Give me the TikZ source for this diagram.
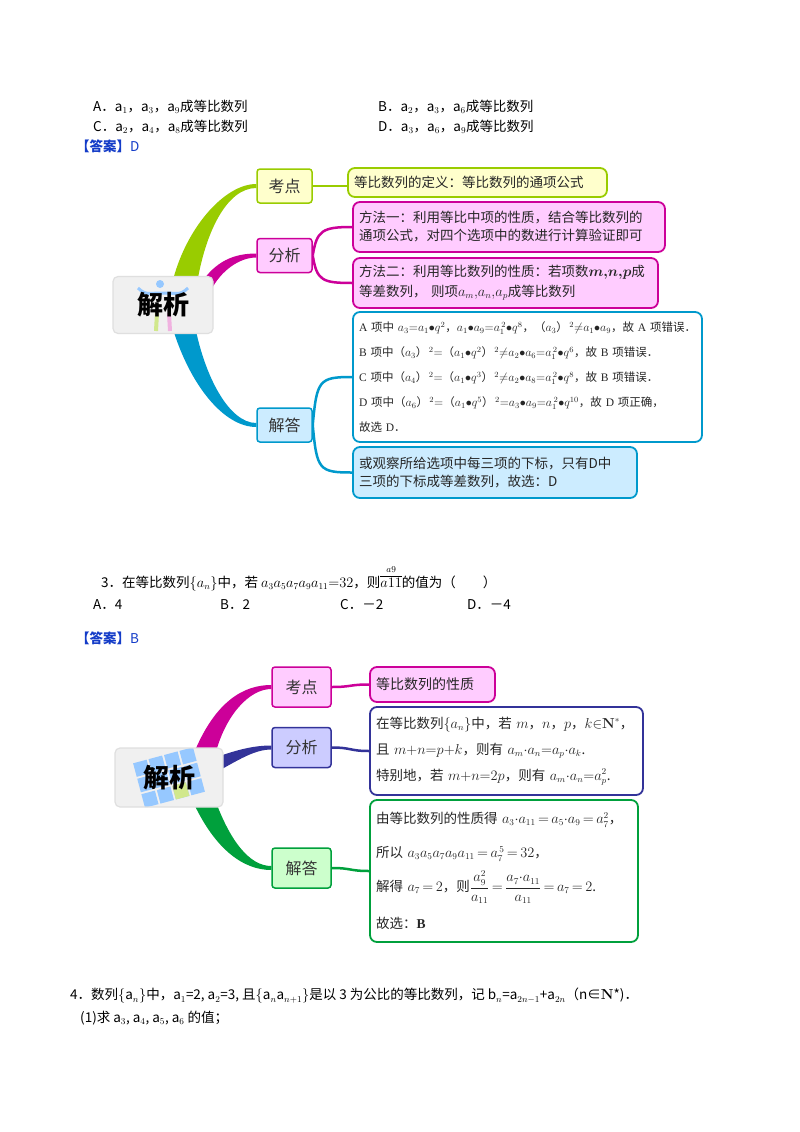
\documentclass[tikz,border=0pt]{standalone}
\usepackage[no-math]{fontspec}
\usepackage{amsmath}
\setmainfont{Noto Sans CJK SC}
\newfontfamily\tnr{Liberation Serif}
\usetikzlibrary{calc,backgrounds}

\definecolor{lime}{RGB}{153,204,0}
\definecolor{limefill}{RGB}{255,255,204}
\definecolor{mag}{RGB}{204,0,153}
\definecolor{magfill}{RGB}{255,204,255}
\definecolor{sky}{RGB}{0,153,204}
\definecolor{skyfill}{RGB}{204,236,255}
\definecolor{navy}{RGB}{51,51,153}
\definecolor{navyfill}{RGB}{204,204,255}
\definecolor{leaf}{RGB}{0,160,60}
\definecolor{leaffill}{RGB}{204,255,204}
\definecolor{ansblue}{RGB}{20,60,200}
\definecolor{tile}{RGB}{150,200,255}

\newcommand{\fsz}[2]{\fontsize{#1}{#2}\selectfont}

\begin{document}
\begin{tikzpicture}[x=1pt,y=-1pt]

\tikzset{txt/.style = {anchor=west, inner sep=0pt, font=\fsz{13.5}{16}}}
\tikzset{ans/.style = {txt, text=ansblue}}
\tikzset{root/.style = {draw=gray!25, fill=gray!12, rounded corners=5pt, line width=1.2pt, font=\fsz{26}{26}\bfseries}}
\tikzset{topic/.style = {draw=#1, fill=#1fill, rounded corners=3pt, line width=1.5pt, inner sep=0pt, text=black!80, font=\fsz{16}{16}}}
\tikzset{box/.style = {draw=#1, rounded corners=7pt, line width=1.8pt, inner sep=6pt, align=left, text=black!85}}

\useasboundingbox (0,0) rectangle (800,1132);

% question 2
\node[txt] (qa) at (93,107) {A．a$_1$，a$_3$，a$_9$成等比数列};
\node[txt] (qb) at (378,107) {B．a$_2$，a$_3$，a$_6$成等比数列};
\node[txt] (qc) at (93,127) {C．a$_2$，a$_4$，a$_8$成等比数列};
\node[txt] (qd) at (378,127) {D．a$_3$，a$_6$，a$_9$成等比数列};
\node[ans] (ans1) at (76,146) {\textbf{【答案】}D};

% mind map 1
\node[root, minimum width=100pt, minimum height=57pt,
  path picture={
    \fill[tile] ($(path picture bounding box.center)+(-3,-21)$) circle (4);
    \draw[tile, line width=3pt] ($(path picture bounding box.center)+(-25,-17)$) .. controls +(8,8) and +(-12,0) .. ($(path picture bounding box.center)+(0,-12)$) .. controls +(12,0) and +(-8,8) .. ($(path picture bounding box.center)+(25,-17)$);
    \draw[lime!45, line width=4pt] ($(path picture bounding box.center)+(-6,8)$) -- ($(path picture bounding box.center)+(-7,26)$);
    \draw[mag!30, line width=4pt] ($(path picture bounding box.center)+(6,8)$) -- ($(path picture bounding box.center)+(7,26)$);
  }] (root1) at (163,305) {解析};
\node[topic=lime, minimum width=55pt, minimum height=34pt] (kd1) at (284.5,186) {考点};
\node[topic=mag, minimum width=55pt, minimum height=34pt] (fx1) at (284.5,255.5) {分析};
\node[topic=sky, minimum width=55pt, minimum height=34pt] (jd1) at (284.5,425) {解答};

\node[box=lime, fill=limefill, text width=247pt, minimum height=29pt, inner sep=6pt, font=\fsz{13.5}{17}] (def1) at (477.5,182.5) {等比数列的定义：等比数列的通项公式};
\node[box=mag, fill=magfill, text width=300pt, minimum height=50pt, font=\fsz{13.5}{18}] (ff1) at (509,227) {方法一：利用等比中项的性质，结合等比数列的\\通项公式，对四个选项中的数进行计算验证即可};
\node[box=mag, fill=magfill, text width=293pt, minimum height=50pt, font=\fsz{13.5}{20}] (ff2) at (505.5,283) {方法二：利用等比数列的性质：若项数$\boldsymbol{m{,}n{,}p}$成\\等差数列， 则项$a_m{,}a_n{,}a_p$成等比数列};
\node[box=sky, fill=white, text width=337pt, minimum height=130pt, font=\fsz{11.5}{25}] (sol1) at (527.5,377) {%
\mbox{{\tnr A} 项中 $a_3{=}a_1{\bullet}q^2$，$a_1{\bullet}a_9{=}a_1^{\,2}{\bullet}q^8$，（$a_3$）$^{\,2}{\ne}a_1{\bullet}a_9$，故 {\tnr A} 项错误．}\\
\mbox{{\tnr B} 项中（$a_3$）$^{\,2}{=}$（$a_1{\bullet}q^2$）$^{\,2}{\ne}a_2{\bullet}a_6{=}a_1^{\,2}{\bullet}q^6$，故 {\tnr B} 项错误．}\\
\mbox{{\tnr C} 项中（$a_4$）$^{\,2}{=}$（$a_1{\bullet}q^3$）$^{\,2}{\ne}a_2{\bullet}a_8{=}a_1^{\,2}{\bullet}q^8$，故 {\tnr B} 项错误．}\\
\mbox{{\tnr D} 项中（$a_6$）$^{\,2}{=}$（$a_1{\bullet}q^5$）$^{\,2}{=}a_3{\bullet}a_9{=}a_1^{\,2}{\bullet}q^{10}$，故 {\tnr D} 项正确，}\\
故选 {\tnr D}．};
\node[box=sky, fill=skyfill, text width=272pt, minimum height=51pt, font=\fsz{13.5}{18}] (obs1) at (495,472.5) {或观察所给选项中每三项的下标，只有D中\\三项的下标成等差数列，故选：D};

% question 3
\node[txt] (q3) at (101,578) {3．在等比数列$\{a_n\}$中，若 $a_3a_5a_7a_9a_{11}{=}32$，则$\overset{\scriptstyle a9}{\overline{a\mathrm{11}}}$的值为（　　）};
\node[txt] (o3a) at (93,605) {A．4};
\node[txt] (o3b) at (220,605) {B．2};
\node[txt] (o3c) at (340,605) {C．－2};
\node[txt] (o3d) at (467,605) {D．－4};
\node[ans] (ans2) at (76,638) {\textbf{【答案】}B};

% mind map 2
\node[root, minimum width=108pt, minimum height=59pt,
  path picture={
    \foreach \i in {0,...,3}
      \foreach \j in {0,...,2} {
        \pgfmathsetmacro{\u}{-31+\i*16}
        \pgfmathsetmacro{\v}{-23+\j*16}
        \fill[tile, sharp corners] ($(path picture bounding box.center)+({(\u)*cos(15)+(\v)*sin(15)},{-(\u)*sin(15)+(\v)*cos(15)})$)
          -- ++({14*cos(15)},{-14*sin(15)}) -- ++({14*sin(15)},{14*cos(15)}) -- ++({-14*cos(15)},{14*sin(15)}) -- cycle;
      }
    \fill[lime!45, sharp corners] ($(path picture bounding box.center)+({1*cos(15)+9*sin(15)},{-1*sin(15)+9*cos(15)})$)
      -- ++({14*cos(15)},{-14*sin(15)}) -- ++({14*sin(15)},{14*cos(15)}) -- ++({-14*cos(15)},{14*sin(15)}) -- cycle;
  }] (root2) at (169,777.5) {解析};
\node[topic=mag, minimum width=59pt, minimum height=40pt] (kd2) at (301.5,687) {考点};
\node[topic=navy, minimum width=59pt, minimum height=40pt] (fx2) at (301.5,747.5) {分析};
\node[topic=leaf, minimum width=59pt, minimum height=40pt] (jd2) at (301.5,868) {解答};

\node[box=mag, fill=magfill, text width=113pt, minimum height=35pt, font=\fsz{14}{17}] (prop2) at (432.5,684.5) {等比数列的性质};
\node[box=navy, fill=white, text width=261pt, minimum height=88pt, font=\fsz{13.5}{26}] (thm2) at (506.5,751) {%
\mbox{在等比数列$\{a_n\}$中，若 $m$，$n$，$p$，$k{\in}\mathbf{N}^*$，}\\
\mbox{且 $m{+}n{=}p{+}k$，则有 $a_m{\cdot}a_n{=}a_p{\cdot}a_k$.}\\
\mbox{特别地，若 $m{+}n{=}2p$，则有 $a_m{\cdot}a_n{=}a_p^2$.}};
\node[box=leaf, fill=white, text width=256pt, minimum height=142pt, font=\fsz{13.5}{34}] (sol2) at (504,871) {%
\mbox{由等比数列的性质得 $a_3{\cdot}a_{11}\,{=}\,a_5{\cdot}a_9\,{=}\,a_7^2$，}\\
\mbox{所以 $a_3a_5a_7a_9a_{11}\,{=}\,a_7^{\,5}\,{=}\,32$，}\\
\mbox{解得 $a_7\,{=}\,2$，则$\dfrac{a_9^2}{a_{11}}\,{=}\,\dfrac{a_7{\cdot}a_{11}}{a_{11}}\,{=}\,a_7\,{=}\,2$.}\\[3pt]
故选：{\tnr\bfseries B}};

% question 4
\node[txt] (q4) at (70,996) {4．数列$\{$a$_n\}$中，a$_1$=2, a$_2$=3, 且$\{$a$_n$a$_{n+1}\}$是以 3 为公比的等比数列，记 b$_n$=a$_{2n-1}$+a$_{2n}$（n∈$\mathbf{N}$*)．};
\node[txt] (q4a) at (80,1018) {(1)求 a$_3$, a$_4$, a$_5$, a$_6$ 的值；};

%branches
\begin{scope}[on background layer]
\fill[white] (0,0) rectangle (800,1132);
\fill[lime] ($(root1.north)+(9,8)$) .. controls +(13,-55) and +(-32,0) .. ($(kd1.west)+(0,-2)$) -- ($(kd1.west)+(0,2)$) .. controls +(-30,0) and +(8,-50) .. ($(root1.north)+(34,8)$) -- cycle;
\fill[mag] ($(root1.north east)+(-13,8)$) .. controls +(15,-23) and +(-22,0) .. ($(fx1.west)+(0,-2)$) -- ($(fx1.west)+(0,2)$) .. controls +(-17,0) and +(10,-20) .. ($(root1.north east)+(-3,15)$) -- cycle;
\fill[sky] ($(root1.south)+(9,-8)$) .. controls +(18,60) and +(-32,0) .. ($(jd1.west)+(0,2)$) -- ($(jd1.west)+(0,-2)$) .. controls +(-27,0) and +(10,51) .. ($(root1.south)+(32,-8)$) -- cycle;

\fill[mag] ($(root2.north)+(24,8)$) .. controls +(22,-55) and +(-27,0) .. ($(kd2.west)+(0,-2)$) -- ($(kd2.west)+(0,2)$) .. controls +(-22,0) and +(10,-40) .. ($(root2.north)+(46,8)$) -- cycle;
\fill[navy] ($(root2.east)+(-8,-20)$) .. controls +(22,-8) and +(-17,0) .. ($(fx2.west)+(0,-2)$) -- ($(fx2.west)+(0,2)$) .. controls +(-17,0) and +(22,-12) .. ($(root2.east)+(-8,-5)$) -- cycle;
\fill[leaf] ($(root2.south)+(23,-8)$) .. controls +(23,51) and +(-27,0) .. ($(jd2.west)+(0,2)$) -- ($(jd2.west)+(0,-2)$) .. controls +(-22,0) and +(15,41) .. ($(root2.south)+(46,-8)$) -- cycle;

%edges
\draw[lime, line width=2.5pt] (kd1.east) -- (kd1.east -| def1.west);
\draw[mag, line width=2.5pt] (fx1.east) .. controls +(4,-25) and +(-30,0) .. (ff1.west);
\draw[mag, line width=2.5pt] (fx1.east) .. controls +(4,25) and +(-30,0) .. (ff2.west);
\draw[sky, line width=2.5pt] (jd1.east) .. controls +(4,-45) and +(-33,0) .. (sol1.west);
\draw[sky, line width=2.5pt] (jd1.east) .. controls +(4,45) and +(-33,0) .. (obs1.west);
\draw[mag, line width=2.5pt] (kd2.east) .. controls +(20,0) and +(-20,0) .. (prop2.west);
\draw[navy, line width=2.5pt] (fx2.east) .. controls +(20,0) and +(-20,0) .. (thm2.west);
\draw[leaf, line width=2.5pt] (jd2.east) .. controls +(20,0) and +(-20,0) .. (sol2.west);
\end{scope}

\end{tikzpicture}
\end{document}
